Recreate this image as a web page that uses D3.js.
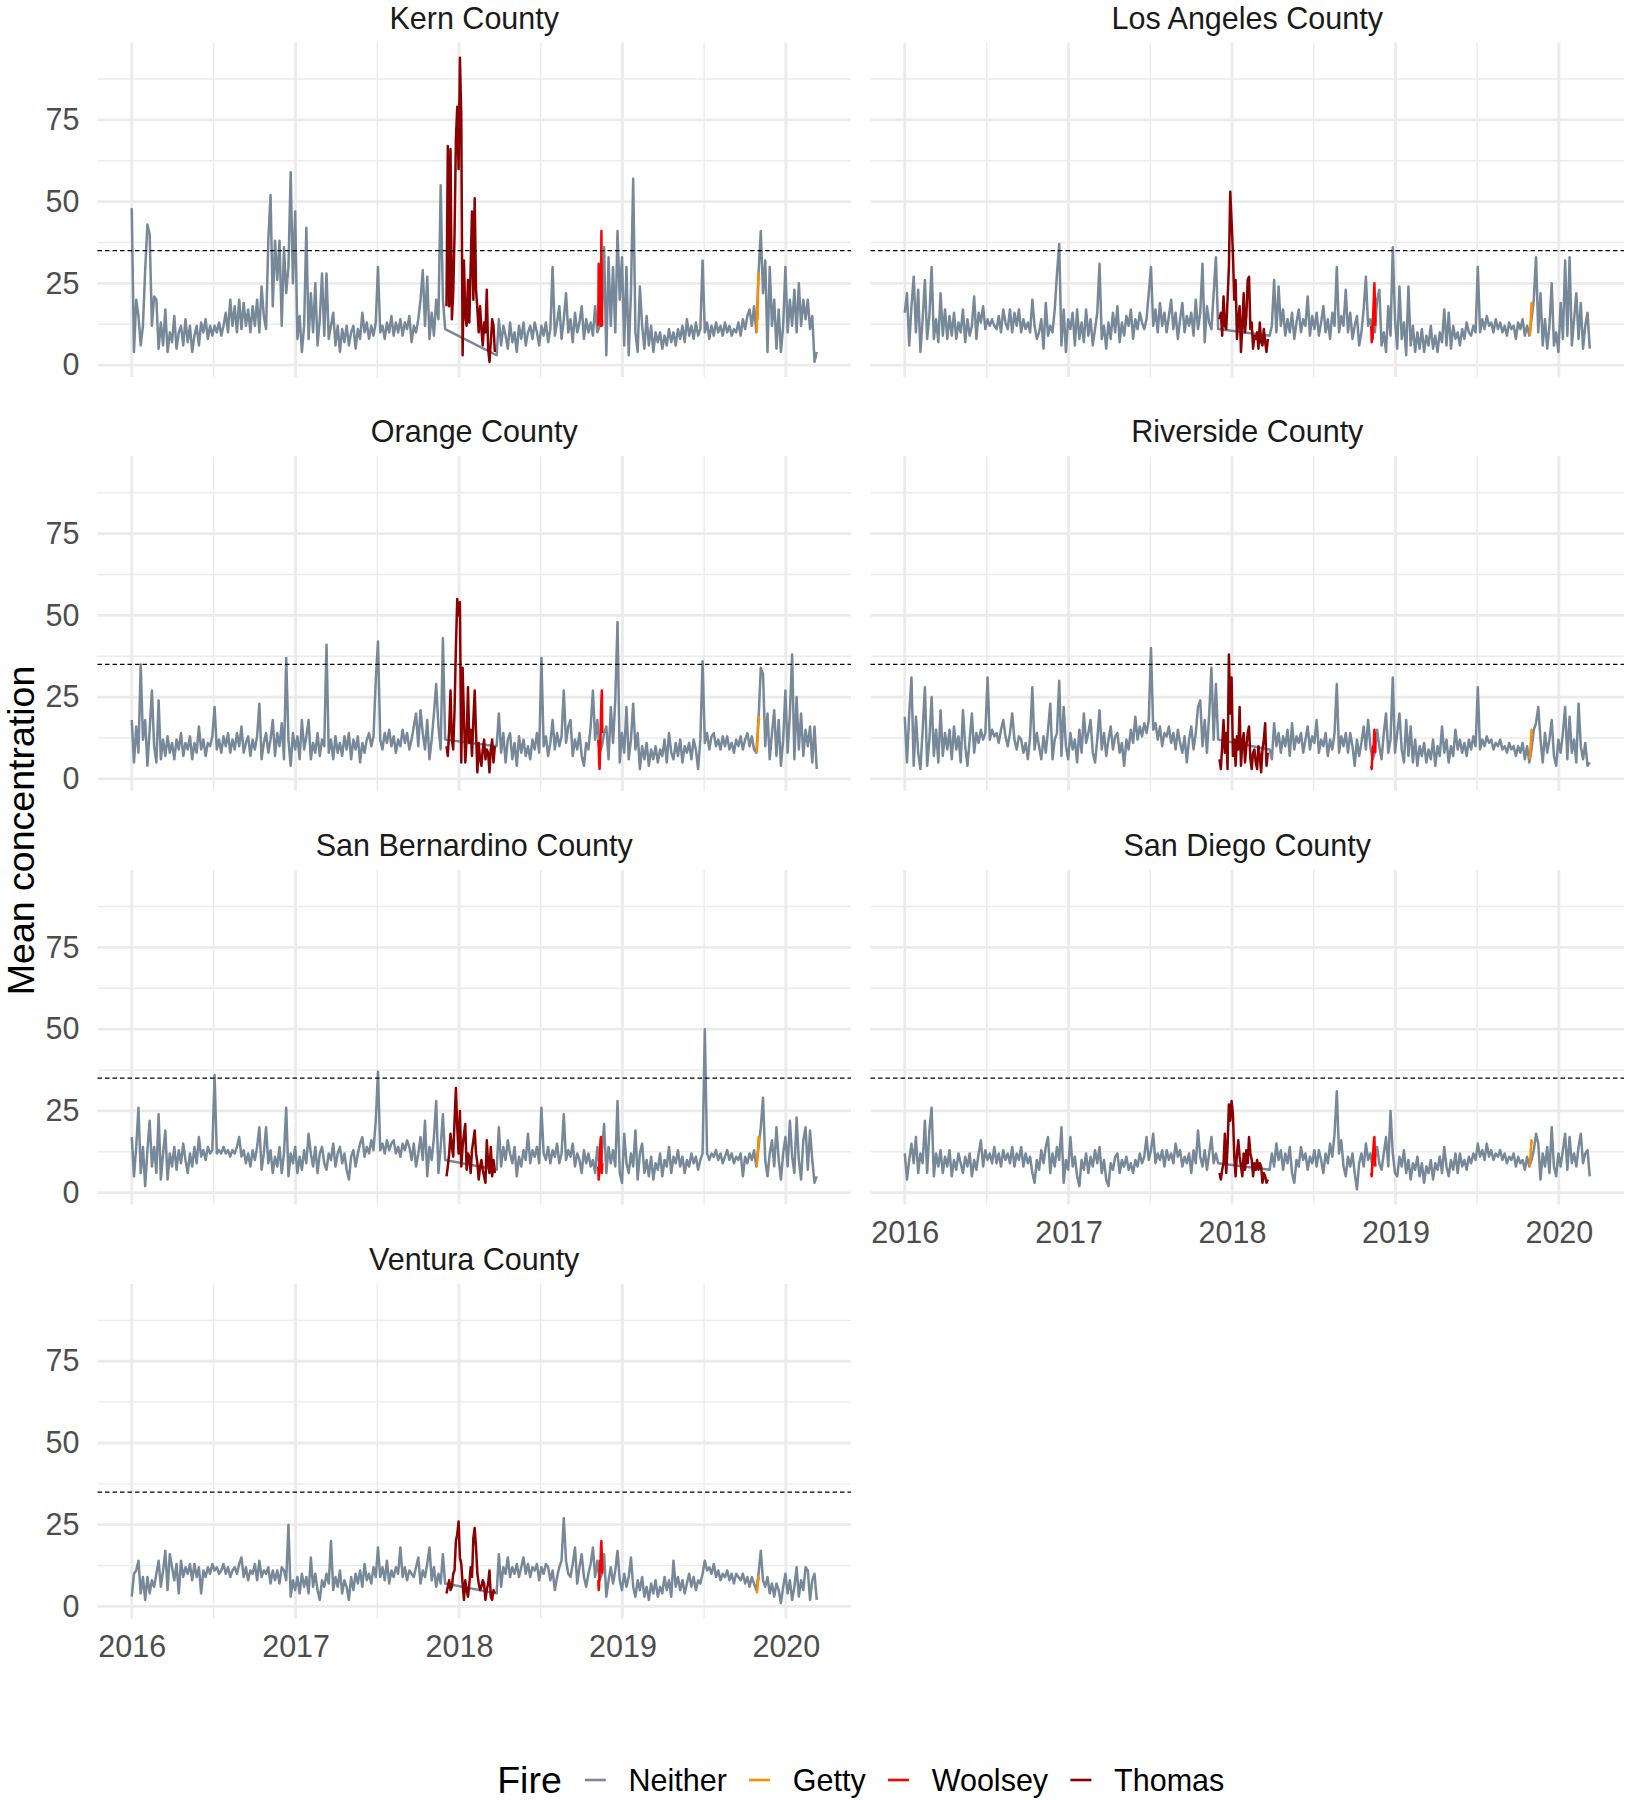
<!DOCTYPE html>
<html><head><meta charset="utf-8">
<script src="https://cdn.jsdelivr.net/npm/d3@7"></script>
<style>
body{margin:0;background:#fff;}
svg text{font-family:"Liberation Sans",Arial,Helvetica,sans-serif;}
</style></head><body>
<svg id="chart" width="1626" height="1800"></svg>
<script>
// ---------------- DATA ----------------
const counties = ["Kern County","Los Angeles County","Orange County","Riverside County","San Bernardino County","San Diego County","Ventura County"];
const fireNames = ["Neither","Getty","Woolsey","Thomas"];
const fireColors = ["#778899","#FF8C00","#FF0000","#8B0000"];
const yTicks = [0,25,50,75];
const xTickYears = [2016,2017,2018,2019,2020];
const thresholdValue = 35;
const yTitle = "Mean concentration";
const legendTitle = "Fire";

// Neither: 5-day samples, before (from 2016-01-01) and after (from 2018-03-26) the Thomas fire period
const neitherStartA = "2016-01-01", neitherStartB = "2018-03-26", neitherStep = 5;
const thomasStart = "2017-12-04", thomasStep = 3;
const woolseyStart = "2018-11-08", woolseyStep = 1;
const gettyStart = "2019-10-28", gettyStep = 1;

const kernNeitherA = [48,4,20,15,6,12,29,43,40,12, 21,20,5,13,6,17,4,10,7,15, 5,10,12,6,14,7,12,4,9,12, 6,13,10,14,8,12,9,12,10,13, 9,12,16,10,20,12,18,10,20,11, 19,12,17,10,18,12,20,10,24,15, 11,38,52,18,38,26,38,12,36,22, 30,59,25,47,8,15,4,12,42,8, 22,10,25,6,14,28,9,28,8,12, 16,6,12,4,11,7,12,6,10,12, 5,11,8,16,10,13,8,12,9,13, 30,10,12,8,13,10,15,9,13,10, 14,9,13,11,15,7,12,10,14,20, 29,12,27,8,16,9,20,14,55,20, 11];
const kernNeitherB = [3,14,6,12,9,5,13,7,10,4, 12,8,13,6,10,12,8,13,10,6, 12,9,13,7,11,30,9,13,18,8, 14,22,10,14,7,16,10,13,18,8, 14,10,13,9,18,10,12,12,36,3, 33,12,30,10,41,20,33,6,30,3, 22,57,10,4,24,12,5,15,6,12, 4,10,7,10,5,9,6,11,7,10, 6,11,8,12,7,14,9,12,8,13, 9,11,32,10,13,8,12,9,13,10, 12,9,13,10,12,9,11,10,13,9, 14,11,15,17,12,18,10,28,41,22, 32,4,30,12,20,5,17,4,12,30, 10,20,12,23,10,25,12,20,14,20, 11,15,1,4];
const kernThomas = [18,67,18,66,14,22,40,69,79,60, 94,76,3,32,15,12,26,13,30,47, 20,51,23,17,10,18,11,6,13,10, 23,5,1,7,14,12,4];
const kernWoolsey = [12,31,14,30,13,26,12,41,14,12];
const kernGetty = [10,18,14,24,28,26];

const laNeitherA = [16,22,6,18,27,10,23,4,14,26, 8,15,30,8,14,7,22,9,17,8, 15,9,16,8,13,10,17,7,14,9, 12,21,8,16,13,18,11,14,12,14, 12,11,15,10,17,13,11,17,10,16, 12,17,10,14,11,13,10,20,12,8, 10,14,5,19,9,12,10,17,28,37, 6,17,4,14,11,16,6,17,8,13, 7,17,9,14,6,11,16,31,8,12, 5,13,8,16,10,18,7,13,9,15, 12,17,8,14,11,16,13,11,14,22, 30,12,17,10,19,12,16,10,15,20, 11,16,8,14,19,10,15,12,16,9, 20,11,16,31,7,18,13,11,22,33, 11];
const laNeitherB = [9,12,26,10,24,12,17,9,14,10, 16,8,13,17,10,14,12,21,9,15, 11,16,9,13,18,10,14,8,16,12, 30,10,15,12,23,10,16,8,12,15, 6,10,17,27,12,14,10,10,20,23, 6,10,4,18,9,36,14,5,24,8, 13,3,24,6,12,4,10,5,11,4, 9,6,12,5,9,4,10,7,17,6, 16,5,12,8,10,6,11,8,13,10, 9,12,10,30,10,14,11,15,12,13, 10,14,11,13,10,12,9,13,11,12, 8,13,11,14,9,12,9,14,20,33, 10,22,6,14,5,12,25,6,10,4, 19,8,32,9,33,6,14,22,8,19, 5,12,16,5];
const laThomas = [14,16,9,21,12,11,20,30,53,44, 34,20,26,8,14,18,4,12,22,10, 15,26,27,11,13,5,9,8,10,5, 13,7,6,11,7,4,8];
const laWoolsey = [12,7,10,8,14,18,21,25,20,12];
const laGetty = [9,10,13,16,19,17];

const orangeNeitherA = [18,5,16,8,35,12,18,4,15,27, 10,5,24,6,12,7,13,8,11,6, 12,9,14,7,11,9,13,6,11,8, 16,9,12,7,11,10,13,22,9,12, 8,13,10,14,8,12,9,14,10,16, 8,11,13,7,12,9,13,23,6,11, 14,8,12,18,7,14,10,17,6,37, 12,4,14,9,13,6,18,9,13,18, 6,11,8,14,7,12,10,41,8,12, 6,13,8,11,7,13,9,14,6,12, 9,13,5,11,8,12,14,10,13,30, 42,12,9,14,11,15,10,13,8,12, 10,15,11,14,9,12,16,20,10,21, 14,9,18,6,12,20,29,16,9,43, 12];
const orangeNeitherB = [10,20,8,14,5,12,14,6,11,4, 13,8,12,7,10,6,12,9,14,8, 37,10,13,7,11,18,9,14,10,13, 27,11,16,18,7,12,9,14,7,4, 11,9,16,27,12,18,8,10,14,16, 6,22,11,24,48,5,14,8,22,6, 12,23,9,14,3,10,6,11,4,9, 6,10,5,9,7,12,5,14,8,6, 11,7,12,5,10,8,11,6,12,9, 3,12,36,11,14,9,13,14,10,12, 9,13,10,13,9,11,8,12,10,13, 9,12,14,10,13,9,8,18,34,32, 10,20,6,14,21,7,18,4,12,27, 8,20,38,6,25,9,20,7,15,10, 16,5,16,3];
const orangeThomas = [10,7,15,27,12,9,21,40,55,50, 54,5,34,19,5,12,28,11,15,7, 18,27,14,2,11,6,4,9,12,6, 9,8,2,9,12,5,10];
const orangeWoolsey = [12,10,5,3,8,12,19,24,27,14];
const orangeGetty = [8,10,13,16,19,18];

const riversideNeitherA = [19,5,20,31,4,19,8,3,15,28, 4,12,25,7,15,5,21,7,14,9, 15,6,16,9,13,5,21,10,4,12, 20,8,14,11,15,12,14,31,12,15, 13,14,11,15,18,13,10,14,20,12, 9,13,12,8,11,6,13,28,9,14, 10,6,13,8,15,23,6,12,14,30, 7,22,10,6,14,9,12,5,15,8, 20,11,14,18,8,5,12,21,9,14, 7,12,16,9,13,14,8,11,4,12, 9,15,11,19,12,16,13,17,14,18, 40,15,17,12,16,10,14,13,16,11, 14,9,15,11,8,13,5,12,16,9, 14,22,24,10,18,8,20,34,12,29, 12];
const riversideNeitherB = [9,6,17,10,14,8,13,10,15,7, 17,9,13,11,14,8,12,16,9,13, 11,18,8,12,10,14,7,12,9,14, 29,8,13,10,14,8,14,10,4,12, 7,11,16,9,18,10,6,8,15,10, 6,14,20,8,12,31,8,14,20,9, 5,18,7,16,5,12,4,10,7,11, 5,9,6,12,4,10,7,16,8,12, 5,10,7,15,9,12,8,11,7,12, 9,13,10,28,9,12,10,13,11,12, 9,11,10,12,9,10,8,11,9,10, 7,10,8,11,6,10,5,9,15,17, 22,12,5,14,8,12,18,7,4,12, 8,14,22,6,19,8,12,5,23,10, 6,11,4,5];
const riversideThomas = [6,3,10,18,8,14,3,38,20,31, 7,12,4,13,9,22,4,11,14,5, 10,14,16,6,3,8,9,5,3,10, 7,2,9,12,17,4,8];
const riversideWoolsey = [4,3,6,9,10,8,12,15,13,8];
const riversideGetty = [6,8,10,12,15,13];

const sanBernardinoNeitherA = [17,5,14,26,6,14,2,13,22,8, 14,6,24,4,12,19,4,12,8,14, 7,13,9,15,10,6,12,8,14,9, 17,11,13,10,14,12,13,36,12,13, 12,14,12,13,11,13,12,14,17,11, 13,9,12,8,13,10,14,20,7,12, 20,9,13,6,11,8,14,6,12,26, 5,12,9,14,6,11,7,13,9,18, 12,8,14,6,12,14,9,7,12,10, 15,8,12,14,9,12,7,4,11,13, 8,12,15,17,11,14,12,16,13,22, 37,13,15,12,16,13,15,16,12,14, 11,15,13,16,14,10,15,8,12,17, 10,22,5,14,10,17,28,6,14,24, 10];
const sanBernardinoNeitherB = [7,20,8,14,10,16,12,9,14,5, 11,8,13,10,18,9,13,11,14,9, 26,12,10,14,9,13,11,15,9,12, 24,10,13,11,15,8,12,10,6,13, 9,12,8,10,6,14,8,12,21,6, 14,9,13,8,28,6,3,18,9,6, 12,8,19,4,12,15,6,10,5,11, 4,9,7,12,5,10,8,14,6,11, 9,13,8,11,6,10,8,12,9,11, 7,10,12,50,12,10,12,11,13,10, 12,9,11,13,10,12,9,11,10,12, 5,11,9,12,10,13,8,14,20,29, 10,5,12,16,8,20,10,4,12,17, 8,22,11,6,23,10,4,16,20,7, 19,10,3,5];
const sanBernardinoThomas = [5,8,12,18,14,11,22,32,20,12, 25,8,14,18,21,7,12,11,6,13, 16,19,12,9,4,8,10,7,5,3, 16,9,6,14,5,10,6];
const sanBernardinoWoolsey = [8,4,6,10,13,16,17,12,6,9];
const sanBernardinoGetty = [8,10,12,14,17,15];

const sanDiegoNeitherA = [12,4,10,15,9,17,6,12,9,22, 6,19,26,5,12,8,13,6,11,8, 13,5,10,7,12,9,6,11,8,12, 5,10,7,12,16,8,13,10,12,9, 14,9,12,8,13,10,12,9,14,8, 12,10,14,8,12,9,11,6,3,10, 7,13,9,14,17,6,12,8,14,10, 20,3,10,7,17,8,11,5,2,10, 7,12,6,11,8,13,9,14,6,10, 4,2,9,7,11,12,6,10,8,11, 7,9,6,10,8,12,9,11,17,10, 13,18,9,12,10,13,8,13,10,12, 9,15,11,13,8,11,9,12,6,13, 9,19,11,8,13,7,12,17,9,12, 9];
const sanDiegoNeitherB = [7,12,8,15,10,13,7,12,9,14, 6,3,10,8,14,10,12,7,11,9, 13,8,13,10,6,12,9,15,11,18, 31,12,16,8,5,11,8,12,6,1, 9,12,8,15,10,12,8,10,14,9, 7,12,17,8,25,12,6,5,11,8, 13,6,10,4,9,7,11,5,9,3, 8,6,10,4,9,7,11,6,14,8, 5,10,7,12,6,12,8,10,7,11, 9,12,10,15,11,13,10,15,11,13, 10,12,11,13,10,12,9,11,10,12, 8,11,9,10,7,11,8,10,13,18, 15,4,12,8,14,6,20,8,5,12, 8,13,18,7,17,9,12,8,14,18, 9,12,13,5];
const sanDiegoThomas = [6,4,7,9,18,6,14,27,22,28, 24,11,5,12,16,11,8,5,12,7, 13,9,17,12,10,5,9,7,10,7, 9,8,3,6,5,3,4];
const sanDiegoWoolsey = [6,5,8,10,12,14,16,17,12,8];
const sanDiegoGetty = [8,10,12,14,16,15];

const venturaNeitherA = [3,10,11,14,4,9,2,9,4,8, 6,10,14,6,11,17,5,16,12,8, 13,4,14,9,12,10,13,8,13,9, 12,4,11,9,12,10,13,11,12,10, 11,13,10,12,9,11,12,10,13,15, 9,12,8,11,10,13,8,14,9,11, 10,12,7,11,8,11,7,12,11,8, 25,3,8,5,9,4,10,6,9,4, 15,6,10,5,2,8,6,10,7,20, 5,9,6,11,4,8,6,2,9,5, 10,7,11,6,13,8,10,7,12,9, 18,9,12,8,14,7,11,9,12,10, 18,9,12,8,11,10,9,12,15,7, 11,9,13,18,8,12,6,10,7,16, 7];
const venturaNeitherB = [4,16,6,12,10,15,9,12,10,13, 9,12,15,10,13,9,12,11,13,8, 12,10,13,12,8,11,5,9,12,14, 27,14,10,9,13,18,7,12,16,9, 6,10,13,18,9,14,8,10,16,3, 8,12,7,11,17,8,5,10,6,9, 15,6,3,8,5,9,3,6,2,7, 4,8,3,6,4,9,5,8,3,14, 6,9,5,8,4,7,10,6,9,5, 8,7,10,14,11,12,10,13,9,11, 8,10,9,11,8,10,7,10,9,8, 10,7,9,6,9,7,5,10,17,8, 6,9,4,7,3,7,5,1,6,10, 4,8,2,6,12,3,8,5,12,11, 2,8,10,2];
const venturaThomas = [4,6,8,5,6,10,11,20,22,26, 15,13,7,2,8,5,3,7,12,9, 21,24,18,10,7,5,6,8,7,2, 5,7,11,3,2,5,4];
const venturaWoolsey = [8,5,7,10,14,12,18,20,15,10];
const venturaGetty = [4,5,6,8,9,8];

// ---------------- BUILD ----------------
const parse = d3.utcParse("%Y-%m-%d");
const DAY = 864e5;
function makeSeries(start, step, values){
  const t0 = parse(start).getTime();
  return values.map((v,k)=>({date:new Date(t0 + k*step*DAY), value:v}));
}
function county(nA, nB, th, wo, ge){
  return {
    Neither: makeSeries(neitherStartA, neitherStep, nA).concat(makeSeries(neitherStartB, neitherStep, nB)),
    Getty: makeSeries(gettyStart, gettyStep, ge),
    Woolsey: makeSeries(woolseyStart, woolseyStep, wo),
    Thomas: makeSeries(thomasStart, thomasStep, th)
  };
}
const countyData = {
  "Kern County": county(kernNeitherA, kernNeitherB, kernThomas, kernWoolsey, kernGetty),
  "Los Angeles County": county(laNeitherA, laNeitherB, laThomas, laWoolsey, laGetty),
  "Orange County": county(orangeNeitherA, orangeNeitherB, orangeThomas, orangeWoolsey, orangeGetty),
  "Riverside County": county(riversideNeitherA, riversideNeitherB, riversideThomas, riversideWoolsey, riversideGetty),
  "San Bernardino County": county(sanBernardinoNeitherA, sanBernardinoNeitherB, sanBernardinoThomas, sanBernardinoWoolsey, sanBernardinoGetty),
  "San Diego County": county(sanDiegoNeitherA, sanDiegoNeitherB, sanDiegoThomas, sanDiegoWoolsey, sanDiegoGetty),
  "Ventura County": county(venturaNeitherA, venturaNeitherB, venturaThomas, venturaWoolsey, venturaGetty)
};

// ---------------- LAYOUT ----------------
const svg = d3.select("#chart");
const panelW = 753.5, panelH = 334.5;
const colX = [97.5, 870.5];
const rowY = [42.5, 456.3, 870.1, 1283.9];
const small = 30.5, big = 37.5;
const FONT = '"Liberation Sans",Arial,Helvetica,sans-serif';

const all = [];
counties.forEach(c => fireNames.forEach(f => countyData[c][f].forEach(d => all.push(d))));
const tExt = d3.extent(all, d => d.date.getTime());
const vExt = d3.extent(all, d => d.value);
const tPad = (tExt[1]-tExt[0])*0.05, vPad = (vExt[1]-vExt[0])*0.05;
const x = d3.scaleUtc().domain([new Date(tExt[0]-tPad), new Date(tExt[1]+tPad)]).range([0, panelW]);
const y = d3.scaleLinear().domain([vExt[0]-vPad, vExt[1]+vPad]).range([panelH, 0]);

const xMajor = xTickYears.map(yr => new Date(Date.UTC(yr,0,1)));
const xMinor = [];
for (let k=0;k<xMajor.length-1;k++) xMinor.push(new Date((xMajor[k].getTime()+xMajor[k+1].getTime())/2));
const yStep = yTicks[1]-yTicks[0];
const yMinor = [];
for (let t=yTicks[0]-yStep; t<=yTicks[yTicks.length-1]+yStep; t+=yStep){
  const m = t + yStep/2;
  if (m > y.domain()[0] && m < y.domain()[1] && !yTicks.includes(m)) yMinor.push(m);
}

const colorOf = d3.scaleOrdinal().domain(fireNames).range(fireColors);
const line = d3.line().x(d => x(d.date)).y(d => y(d.value)).curve(d3.curveLinear);

const nCols = 2;
counties.forEach((c, idx) => {
  const col = idx % nCols, row = Math.floor(idx / nCols);
  const g = svg.append("g").attr("transform", `translate(${colX[col]},${rowY[row]})`);
  const grid = g.append("g");
  grid.selectAll(".ymin").data(yMinor).join("line")
    .attr("x1",0).attr("x2",panelW).attr("y1",d=>y(d)).attr("y2",d=>y(d))
    .attr("stroke","#EBEBEB").attr("stroke-width",1.4);
  grid.selectAll(".xmin").data(xMinor).join("line")
    .attr("y1",0).attr("y2",panelH).attr("x1",d=>x(d)).attr("x2",d=>x(d))
    .attr("stroke","#EBEBEB").attr("stroke-width",1.4);
  grid.selectAll(".ymaj").data(yTicks).join("line")
    .attr("x1",0).attr("x2",panelW).attr("y1",d=>y(d)).attr("y2",d=>y(d))
    .attr("stroke","#EBEBEB").attr("stroke-width",2.8);
  grid.selectAll(".xmaj").data(xMajor).join("line")
    .attr("y1",0).attr("y2",panelH).attr("x1",d=>x(d)).attr("x2",d=>x(d))
    .attr("stroke","#EBEBEB").attr("stroke-width",2.8);

  fireNames.forEach(f => {
    g.append("path").datum(countyData[c][f])
      .attr("d", line).attr("fill","none")
      .attr("stroke", colorOf(f)).attr("stroke-width",2.5)
      .attr("stroke-linejoin","round");
  });

  g.append("line").attr("x1",0).attr("x2",panelW)
    .attr("y1",y(thresholdValue)).attr("y2",y(thresholdValue))
    .attr("stroke","#000").attr("stroke-width",1.25).attr("stroke-dasharray","4.5,3");

  g.append("text").attr("x",panelW/2).attr("y",-14)
    .attr("text-anchor","middle").attr("font-size",small).attr("fill","#1A1A1A").text(c);

  if (col === 0) {
    const ya = g.append("g").call(d3.axisLeft(y).tickValues(yTicks).tickSize(0).tickPadding(18).tickFormat(d3.format("d")));
    ya.select(".domain").remove();
    ya.selectAll("text").attr("font-size",small).attr("fill","#4D4D4D").style("font-family",FONT);
  }
  const isBottom = (idx + nCols >= counties.length);
  if (isBottom) {
    const xa = g.append("g").attr("transform",`translate(0,${panelH})`)
      .call(d3.axisBottom(x).tickValues(xMajor).tickSize(0).tickPadding(17).tickFormat(d3.utcFormat("%Y")));
    xa.select(".domain").remove();
    xa.selectAll("text").attr("font-size",small).attr("fill","#4D4D4D").style("font-family",FONT);
  }
});

const midY = (rowY[0] + rowY[3] + panelH)/2;
svg.append("text").attr("transform",`translate(21,${midY}) rotate(-90)`).attr("dy","0.35em")
  .attr("text-anchor","middle").attr("font-size",big).attr("fill","#000").text(yTitle);

const legCY = 1780;
const leg = svg.append("g");
const titleT = leg.append("text").attr("x",0).attr("y",legCY).attr("dy","0.35em").attr("font-size",big).attr("fill","#000").text(legendTitle);
let cx = titleT.node().getComputedTextLength() + 23;
fireNames.forEach((f,k) => {
  leg.append("line").attr("x1",cx).attr("x2",cx+21).attr("y1",legCY).attr("y2",legCY)
    .attr("stroke",fireColors[k]).attr("stroke-width",2.6);
  cx += 21 + 22.7;
  const t = leg.append("text").attr("x",cx).attr("y",legCY).attr("dy","0.35em").attr("font-size",small).attr("fill","#000").text(f);
  cx += t.node().getComputedTextLength();
  if (k < fireNames.length-1) cx += 22.3;
});
const plotCenter = (colX[0] + colX[1] + panelW)/2;
leg.attr("transform",`translate(${plotCenter - cx/2},0)`);
</script>
</body></html>
